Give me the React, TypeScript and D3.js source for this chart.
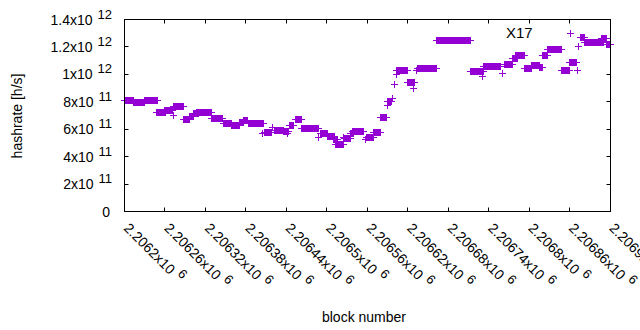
import React from "react";
import { scaleLinear, range } from "d3";

// runs of blocks sharing the same hashrate estimate (one marker per block)
const runStartBlock = [
  2206200, 2206213, 2206230, 2206247, 2206260, 2206272, 2206273, 2206288, 2206296, 2206303,
  2206307, 2206329, 2206347, 2206358, 2206371, 2206377, 2206384, 2206404, 2206407, 2206420,
  2206422, 2206436, 2206442, 2206444, 2206453, 2206462, 2206488, 2206491, 2206501, 2206510,
  2206513, 2206525, 2206527, 2206535, 2206538, 2206557, 2206559, 2206570, 2206579, 2206590,
  2206590, 2206597, 2206600, 2206603, 2206603, 2206619, 2206629, 2206633, 2206635, 2206663,
  2206713, 2206731, 2206733, 2206760, 2206764, 2206775, 2206780, 2206793, 2206803, 2206815,
  2206820, 2206828, 2206848, 2206860, 2206862, 2206872, 2206873, 2206876, 2206882, 2206908,
  2206915,
];
const runEndBlock = [
  2206213, 2206230, 2206249, 2206261, 2206271, 2206272, 2206287, 2206296, 2206303, 2206310,
  2206329, 2206346, 2206358, 2206370, 2206377, 2206382, 2206406, 2206404, 2206418, 2206420,
  2206436, 2206443, 2206442, 2206451, 2206462, 2206487, 2206488, 2206501, 2206511, 2206516,
  2206525, 2206525, 2206535, 2206540, 2206555, 2206557, 2206570, 2206580, 2206588, 2206590,
  2206596, 2206597, 2206600, 2206603, 2206619, 2206630, 2206629, 2206633, 2206663, 2206713,
  2206733, 2206731, 2206758, 2206760, 2206775, 2206783, 2206793, 2206803, 2206815, 2206820,
  2206828, 2206848, 2206860, 2206871, 2206862, 2206872, 2206873, 2206882, 2206911, 2206915,
  2206920,
];
// hashrate in GH/s (x1e9 h/s)
const runHashrate = [
  809, 797, 809, 720, 736, 700, 766, 671, 693, 712,
  722, 676, 640, 625, 651, 664, 640, 567, 578, 615,
  591, 583, 571, 627, 669, 605, 542, 567, 547, 523,
  489, 542, 535, 567, 583, 523, 542, 577, 683, 776,
  801, 825, 923, 998, 1027, 943, 894, 1029, 1046, 1248,
  1019, 985, 1057, 1005, 1071, 1116, 1138, 1046, 1064, 1052,
  1138, 1182, 1027, 1084, 1300, 1027, 1206, 1268, 1234, 1263,
  1218,
];

const xTickValues = [
  2206200, 2206260, 2206320, 2206380, 2206440, 2206500, 2206560,
  2206620, 2206680, 2206740, 2206800, 2206860, 2206920,
];
const yTickValues = [0, 2e11, 4e11, 6e11, 8e11, 1e12, 1.2e12, 1.4e12];

const W = 640;
const H = 330;
const left = 124;
const right = 609.5;
const top = 19;
const bottom = 211;
const tick = 4;
const font = "'Liberation Sans', Arial, sans-serif";
const color = "#9400d3";

const x = scaleLinear().domain([2206200, 2206920]).range([left, right]);
const y = scaleLinear().domain([0, 1.4e12]).range([bottom, top]);

function sciParts(v: number) {
  if (v === 0) return { mant: "0", exp: null as number | null };
  const exp = Math.floor(Math.log10(v));
  const mant = +(v / Math.pow(10, exp)).toFixed(5);
  return { mant: `${mant}x10`, exp };
}

export default function App() {
  const points: [number, number][] = [];
  runStartBlock.forEach((s, i) => {
    range(s, runEndBlock[i] + 1).forEach((b) => {
      points.push([b, runHashrate[i] * 1e9]);
    });
  });
  const markerPath = points
    .filter((p) => p[0] >= 2206200 && p[0] <= 2206920)
    .map(([b, v]) => {
      const px = Math.round(x(b)) + 0.5;
      const py = Math.round(y(v)) + 0.5;
      return `M${px - 3.5},${py}h7M${px},${py - 3.5}v7`;
    })
    .join("");

  const bx = (v: number) => Math.round(x(v)) + 0.5;
  const by = (v: number) => Math.round(y(v)) + 0.5;

  return (
    <svg
      width={W}
      height={H}
      style={{ position: "absolute", left: 0, top: 0, background: "#fff" }}
      fontFamily={font}
      fontSize={14}
    >
      <rect width={W} height={H} fill="#fff" />
      {/* ticks */}
      <g stroke="#000" strokeWidth={1} fill="none">
        {yTickValues.map((v) => (
          <path
            key={`yt${v}`}
            d={`M${bx(2206200)},${by(v)}h${tick}M${bx(2206920)},${by(v)}h${-tick}`}
          />
        ))}
        {xTickValues.map((v) => (
          <path
            key={`xt${v}`}
            d={`M${bx(v)},${by(0)}v${-tick}M${bx(v)},${by(1.4e12)}v${tick}`}
          />
        ))}
      </g>
      {/* data */}
      <path d={markerPath} stroke={color} strokeWidth={1} fill="none" shapeRendering="crispEdges" />
      {/* frame */}
      <rect
        x={bx(2206200)}
        y={by(1.4e12)}
        width={bx(2206920) - bx(2206200)}
        height={by(0) - by(1.4e12)}
        fill="none"
        stroke="#000"
        strokeWidth={1}
      />
      {/* y tick labels */}
      {yTickValues.map((v) => {
        const { mant, exp } = sciParts(v);
        return (
          <text key={`yl${v}`} x={exp === null ? 110 : 112} y={y(v) + 5.5} textAnchor="end" fill="#000">
            {mant}
            {exp !== null && (
              <tspan dx={5} dy={-6} fontSize={13}>
                {exp}
              </tspan>
            )}
          </text>
        );
      })}
      {/* x tick labels */}
      {xTickValues.map((v) => {
        const { mant, exp } = sciParts(v);
        return (
          <text
            key={`xl${v}`}
            transform={`translate(${x(v) - 1},229) rotate(45)`}
            fill="#000"
          >
            {mant}
            <tspan dx={5} dy={-6} fontSize={13}>
              {exp}
            </tspan>
          </text>
        );
      })}
      <text x={364} y={322} textAnchor="middle" fill="#000">
        block number
      </text>
      <text transform="translate(22,116) rotate(-90)" textAnchor="middle" fill="#000">
        hashrate [h/s]
      </text>
      <text x={506} y={37.5} fontSize={15} fill="#000">
        X17
      </text>
    </svg>
  );
}
